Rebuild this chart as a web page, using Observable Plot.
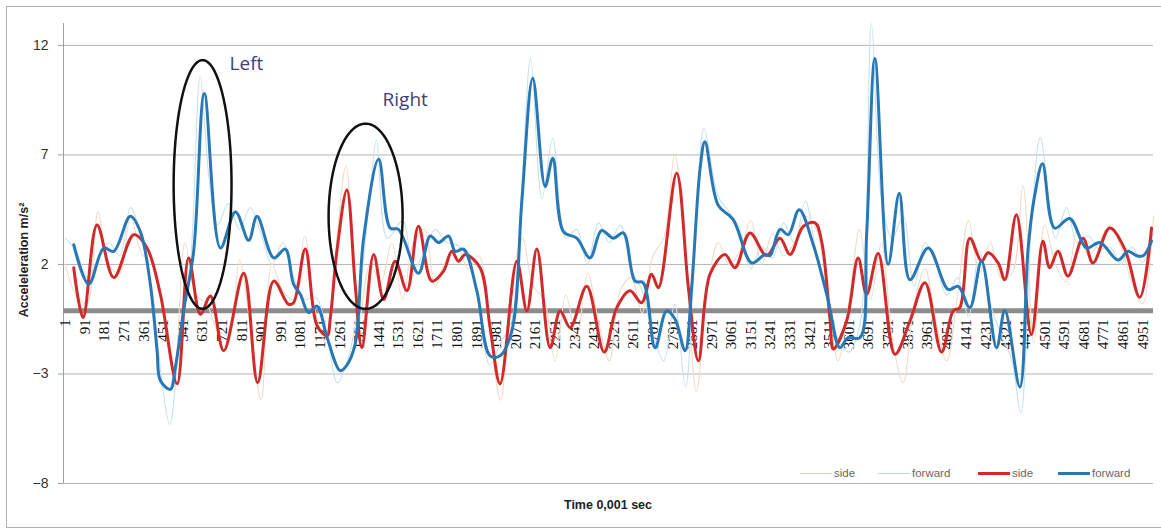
<!DOCTYPE html>
<html><head><meta charset="utf-8">
<script src="https://cdn.jsdelivr.net/npm/d3@7"></script>
<script src="https://cdn.jsdelivr.net/npm/@observablehq/plot@0.6"></script>
<style>
body{margin:0;background:#fff;font-family:"Liberation Sans",Arial,sans-serif;}
#wrap{position:relative;width:1161px;height:529px;overflow:hidden;}
#wrap svg{position:absolute;left:0;top:0;}
#frame{position:absolute;left:6px;top:6px;width:1170px;height:520px;border:1px solid #b0b0b0;pointer-events:none;}
.ttl{position:absolute;font-weight:bold;font-size:12.5px;color:#222;white-space:nowrap;}
.leg{position:absolute;top:466px;height:14px;font-size:11.5px;color:#666;display:flex;align-items:center;white-space:nowrap;}
.leg i{display:inline-block;width:32px;margin-right:2px;}
</style></head>
<body><div id="wrap"><div id="frame"></div></div>
<script>
// ---- data ----
const yTicks = [-8, -3, 2, 7, 12];
const xTickLabels = [1,91,181,271,361,451,541,631,721,811,901,991,1081,1171,1261,1351,1441,1531,1621,1711,1801,1891,1981,2071,2161,2251,2341,2431,2521,2611,2701,2791,2881,2971,3061,3151,3241,3331,3421,3511,3601,3691,3781,3871,3961,4051,4141,4231,4321,4411,4501,4591,4681,4771,4861,4951];

const forwardSmooth = [[39,2.9],[108,1.1],[177,2.75],[223,2.6],[299,4.2],[345,3.5],[391,1.1],[422,-1.94],[437,-3.3],[483,-3.7],[506,-2.7],[544,-0.1],[590,2.6],[639,9.8],[713,2.75],[782,4.4],[843,3.1],[881,4.2],[958,2.3],[1011,2.7],[1049,1.1],[1080,0.64],[1118,-0.2],[1157,0.1],[1203,-1.34],[1264,-2.85],[1294,-2.6],[1332,-1.64],[1371,3.2],[1440,6.8],[1493,3.66],[1531,3.6],[1623,1.6],[1677,3.3],[1715,3.0],[1761,3.3],[1792,2.6],[1830,2.7],[1891,0.8],[1952,-2.17],[1998,-2.17],[2052,-1.03],[2098,4.9],[2148,10.5],[2205,5.56],[2240,6.85],[2289,3.5],[2350,3.2],[2411,2.3],[2464,3.55],[2518,3.2],[2564,3.44],[2618,1.24],[2656,1.16],[2710,-1.8],[2763,-0.12],[2802,-0.5],[2848,-1.94],[2878,0.94],[2917,6.4],[2939,7.6],[3000,4.7],[3069,4.05],[3154,2.07],[3215,2.45],[3238,2.4],[3284,3.6],[3322,3.36],[3372,4.5],[3437,2.9],[3506,0.33],[3559,-1.8],[3597,-1.34],[3651,-1.34],[3682,3.36],[3720,11.4],[3781,2.0],[3832,5.25],[3881,1.3],[3965,2.75],[4057,0.86],[4103,1.0],[4156,0.03],[4210,2.15],[4279,-1.8],[4317,-0.1],[4386,-3.6],[4424,2.75],[4455,5.2],[4490,6.6],[4546,3.66],[4615,4.1],[4692,2.75],[4753,3.0],[4837,2.2],[4883,2.6],[4922,2.4],[4953,2.4],[4991,3.06]];

const sideSmooth = [[39,1.85],[82,-0.43],[146,3.8],[223,1.4],[315,3.36],[376,2.75],[437,0.64],[514,-3.45],[567,2.3],[621,-0.27],[667,0.56],[728,-1.94],[820,1.6],[884,-3.4],[958,1.24],[1026,0.18],[1049,0.25],[1103,2.7],[1157,-0.8],[1203,-1.25],[1218,-0.43],[1248,2.6],[1294,5.4],[1332,1.1],[1363,-1.8],[1417,2.45],[1463,0.4],[1516,2.15],[1570,0.8],[1623,3.74],[1684,1.24],[1738,1.7],[1776,2.6],[1807,2.15],[1838,2.45],[1906,1.85],[1952,-0.88],[1998,-3.45],[2075,2.15],[2121,-0.12],[2167,2.7],[2228,-1.8],[2274,-0.12],[2320,-0.88],[2396,1.0],[2476,-2.0],[2534,0.03],[2595,0.8],[2648,0.25],[2694,1.55],[2725,0.94],[2809,6.16],[2863,0.94],[2909,-2.4],[2962,1.55],[3031,2.45],[3077,1.85],[3146,3.44],[3222,2.4],[3284,3.2],[3330,2.45],[3391,3.74],[3445,3.9],[3475,3.06],[3513,-0.43],[3529,-1.86],[3590,-0.58],[3643,2.3],[3682,0.64],[3735,2.5],[3812,-2.1],[3881,-0.58],[3950,1.16],[4026,-2.0],[4080,-0.12],[4110,0.03],[4156,3.2],[4210,2.15],[4240,2.53],[4286,2.07],[4317,1.3],[4370,4.27],[4439,-1.2],[4492,3.06],[4523,1.85],[4561,2.6],[4607,1.47],[4676,3.2],[4722,2.07],[4799,3.66],[4868,2.7],[4937,0.5],[4991,3.66]];

const forwardRaw = [[0,3.2],[50,2.6],[100,1.4],[150,2.2],[200,3.0],[250,2.4],[300,4.6],[350,3.2],[400,0.6],[450,-3.8],[480,-5.3],[530,-1.0],[575,2.0],[620,10.6],[660,6.0],[700,3.8],[750,4.8],[800,3.6],[850,4.6],[900,3.4],[950,2.0],[1000,3.0],[1050,1.4],[1100,0.4],[1150,0.5],[1200,-1.0],[1250,-3.4],[1300,-2.3],[1350,0.5],[1400,5.2],[1430,7.7],[1480,3.2],[1550,4.0],[1600,1.8],[1650,2.6],[1700,3.6],[1750,3.0],[1800,2.9],[1850,2.2],[1900,0.2],[1950,-2.6],[2000,-1.6],[2050,-0.6],[2100,6.0],[2138,11.4],[2190,5.0],[2240,7.75],[2300,3.2],[2350,3.6],[2400,2.0],[2450,3.9],[2500,3.0],[2550,3.8],[2600,1.8],[2650,0.8],[2700,-1.2],[2750,-2.4],[2800,0.2],[2850,-3.6],[2900,4.2],[2935,8.2],[3000,5.1],[3050,4.4],[3100,3.6],[3150,1.8],[3200,2.8],[3250,2.3],[3300,3.9],[3350,3.0],[3400,4.9],[3450,2.6],[3500,0.8],[3550,-1.4],[3600,-2.0],[3650,-0.8],[3704,13.0],[3750,5.0],[3800,3.2],[3850,4.2],[3900,1.0],[3950,3.0],[4000,2.0],[4050,0.6],[4100,1.4],[4150,-0.4],[4200,2.6],[4250,0.2],[4300,-1.2],[4350,-2.4],[4390,-4.8],[4440,4.0],[4480,7.8],[4550,3.2],[4600,4.6],[4650,3.0],[4700,3.3],[4750,2.7],[4800,2.8],[4850,2.0],[4900,2.8],[4950,2.1],[5000,3.4]];

const sideRaw = [[0,2.0],[50,0.6],[100,0.2],[150,4.4],[200,2.0],[250,1.6],[300,4.2],[350,2.5],[400,2.0],[450,-0.2],[500,-3.0],[550,3.0],[600,0.6],[650,0.2],[700,-1.0],[750,-1.2],[800,2.2],[850,-0.8],[900,-4.2],[950,2.0],[1000,0.8],[1050,0.4],[1100,3.3],[1150,-0.2],[1200,-1.6],[1250,3.4],[1290,6.5],[1350,-0.6],[1400,2.0],[1450,1.2],[1500,3.0],[1550,0.4],[1600,3.0],[1650,3.6],[1700,1.0],[1750,2.2],[1800,2.9],[1850,1.8],[1900,2.4],[1950,-1.0],[2000,-4.2],[2050,1.0],[2100,3.2],[2150,1.0],[2200,0.4],[2250,-2.4],[2300,0.6],[2350,-1.4],[2400,1.6],[2450,-0.6],[2500,-2.4],[2550,0.8],[2600,1.4],[2650,-0.2],[2700,2.4],[2750,3.2],[2800,7.0],[2850,2.4],[2900,-3.8],[2950,0.8],[3000,3.0],[3050,2.0],[3100,2.6],[3150,4.0],[3200,2.0],[3250,3.4],[3300,2.4],[3350,3.0],[3400,4.2],[3450,3.6],[3500,1.0],[3550,-2.4],[3600,0.2],[3650,3.6],[3700,0.4],[3750,3.0],[3800,-1.4],[3850,-3.4],[3900,0.2],[3950,1.8],[4000,-0.6],[4050,-2.4],[4100,0.6],[4150,4.0],[4200,1.6],[4250,3.0],[4300,1.4],[4350,1.6],[4400,5.6],[4450,-1.6],[4500,3.8],[4550,2.0],[4600,1.2],[4650,3.6],[4700,2.4],[4750,3.0],[4800,3.8],[4850,2.8],[4900,1.2],[4950,0.2],[5000,4.2]];

const annotations = [
  {label: "Left",  t: 755,  v: 11.15, ct: 631,  cv: 5.65, rt: 133, rv: 5.68},
  {label: "Right", t: 1458, v: 9.49,  ct: 1380, cv: 4.2,  rt: 170, rv: 4.23}
];

// ---- build ----
const ellipsePts = annotations.flatMap((e, k) => d3.range(0, 361, 4).map(a => ({
  k, t: e.ct + e.rt * Math.cos(a * Math.PI / 180), v: e.cv + e.rv * Math.sin(a * Math.PI / 180)
})));

const chart = Plot.plot({
  width: 1161, height: 529,
  marginLeft: 63, marginRight: 8, marginTop: 23, marginBottom: 46,
  style: {fontFamily: "Liberation Sans, Arial, sans-serif", background: "transparent", overflow: "visible"},
  x: {domain: [-8, 5000], axis: null, label: null},
  y: {domain: [-8, 13], axis: null, label: null},
  marks: [
    Plot.ruleY(yTicks, {stroke: "#b4b4b4", strokeWidth: 1}),
    Plot.ruleX([-8], {y1: -8, y2: 13, stroke: "#a0a0a0"}),
    Plot.axisY(yTicks, {label: null, tickSize: 5, tickPadding: 10, fontSize: 14, color: "#333", stroke: "#a0a0a0"}),
    Plot.ruleY([0], {stroke: "#8c8c8c", strokeWidth: 5, dy: 2.5}),
    Plot.text(xTickLabels, {x: d => d, y: 0, text: d => String(d), rotate: -90, textAnchor: "end", lineAnchor: "middle", dy: 11, fontSize: 15, fontFamily: "Liberation Serif, serif", fill: "#111"}),
    Plot.line(sideRaw, {x: d => d[0], y: d => d[1], stroke: "#f1dcc8", strokeWidth: 1.1, curve: "catmull-rom"}),
    Plot.line(forwardRaw, {x: d => d[0], y: d => d[1], stroke: "#c6e2ee", strokeWidth: 1.1, curve: "catmull-rom"}),
    Plot.line(sideSmooth, {x: d => d[0], y: d => d[1], stroke: "#d12a2a", strokeWidth: 3, curve: "catmull-rom"}),
    Plot.line(forwardSmooth, {x: d => d[0], y: d => d[1], stroke: "#2878b6", strokeWidth: 3, curve: "catmull-rom"}),
    Plot.line(ellipsePts, {x: "t", y: "v", z: "k", stroke: "#111", strokeWidth: 2.5}),
    Plot.text(annotations, {x: "t", y: "v", text: "label", textAnchor: "start", lineAnchor: "middle", fontSize: 19, fontFamily: "Open Sans, sans-serif", fill: "#3f3f7c"})
  ]
});
const wrap = document.getElementById("wrap");
wrap.insertBefore(chart, wrap.firstChild);

function add(html, cls, style) {
  const d = document.createElement("div");
  d.className = cls; d.innerHTML = html; Object.assign(d.style, style); wrap.appendChild(d);
}
add("Acceleleration m/s²", "ttl", {left: "24px", top: "260px", transform: "translate(-50%,-50%) rotate(-90deg)"});
add("Time 0,001 sec", "ttl", {left: "608px", top: "505px", transform: "translate(-50%,-50%)"});
const legendItems = [
  {name: "side", color: "#e6cfb8", w: 1, x: 800},
  {name: "forward", color: "#b8d8e6", w: 1, x: 878},
  {name: "side", color: "#d12a2a", w: 3, x: 978},
  {name: "forward", color: "#2878b6", w: 3, x: 1058}
];
legendItems.forEach(it => add(`<i style="border-top:${it.w}px solid ${it.color}"></i>${it.name}`, "leg", {left: it.x + "px"}));
</script></body></html>
